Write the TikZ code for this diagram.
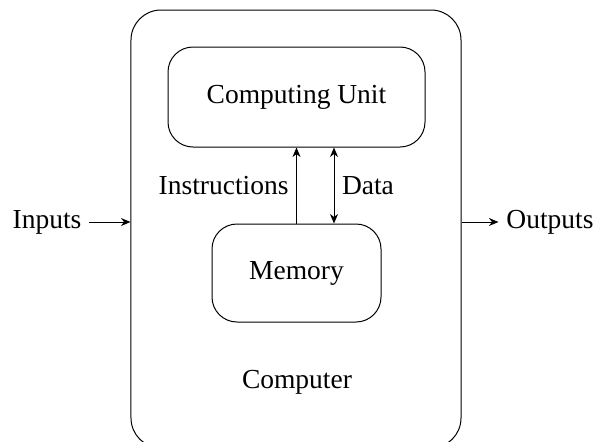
\documentclass[tikz,border=0pt]{standalone}
\usepackage{fontspec}
\setmainfont{Liberation Serif}
\usetikzlibrary{arrows.meta,positioning}

\begin{document}
\begin{tikzpicture}[x=0.4pt,y=-0.4pt,>={Stealth[length=3.8pt,width=3.2pt,inset=1.2pt]},
                    font=\fontsize{11}{13}\selectfont]
  \tikzstyle{block}=[draw,rounded corners=10pt,align=center]
  \tikzstyle{label}=[inner sep=3pt]

  \useasboundingbox (0,0) rectangle (600,441);

  \node[block,rounded corners=12pt,minimum width=132pt,minimum height=175.2pt] (comp) at (296,229) {};
  \node[block,minimum width=102.8pt,minimum height=40pt] (cu) at (296.5,97) {Computing Unit};
  \node[block,minimum width=67.6pt,minimum height=39.2pt] (mem) at (296.5,273) {Memory};
  \node (complabel) at (297,382) {Computer};

  \node[label] (in) at (47,222) {Inputs};
  \node[label] (out) at (550,222) {Outputs};

  % buses between memory and the unit
  \coordinate (dtop) at ([xshift=15pt]cu.south);
  \coordinate (dbot) at ([xshift=15pt]mem.north);
  \draw[->] (mem.north) -- (mem.north |- cu.south)
    node[midway,left,label] {Instructions};
  \draw[<->] (dtop) -- (dbot)
    node[midway,right,label] {Data};

  \draw[->] (in.east) -- (in.east -| comp.west);
  \draw[->] (out.west -| comp.east) -- (out.west);
\end{tikzpicture}
\end{document}
